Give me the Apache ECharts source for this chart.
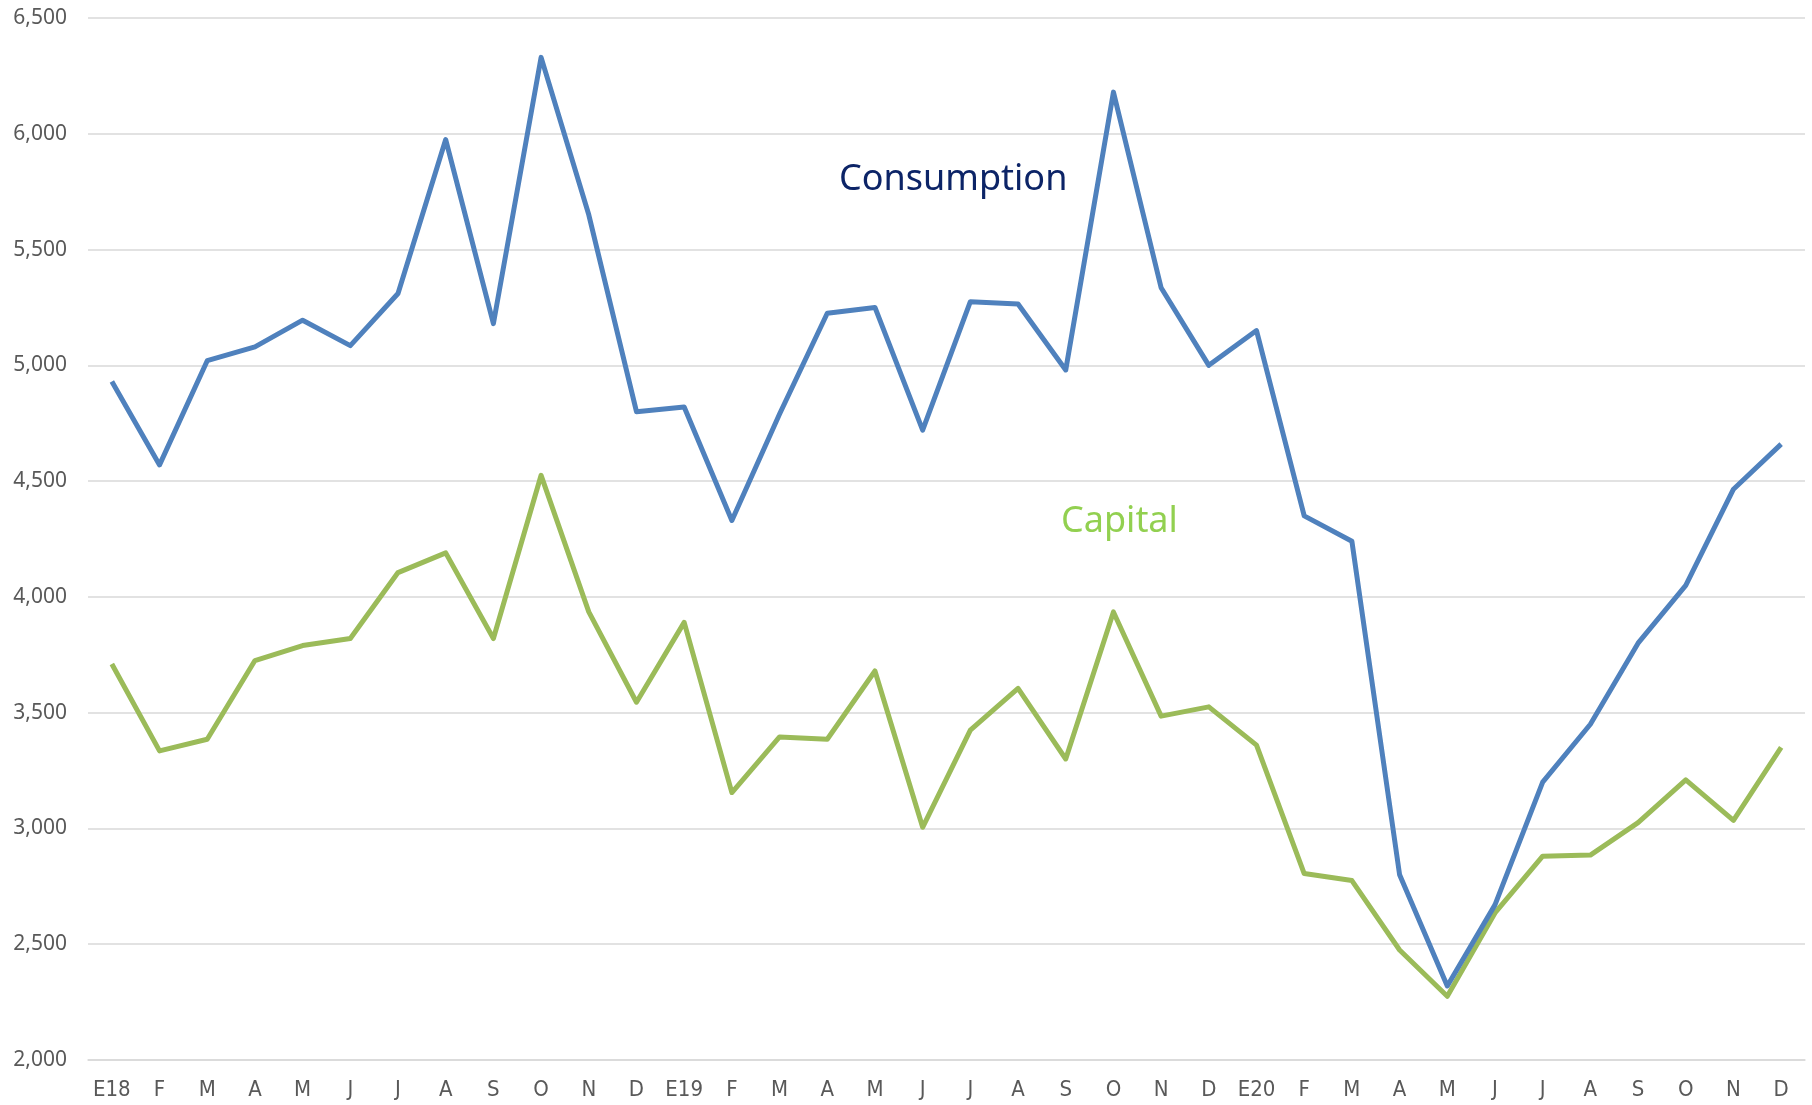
<!DOCTYPE html>
<html>
<head>
<meta charset="utf-8">
<script src="https://cdn.jsdelivr.net/npm/echarts@6/dist/echarts.min.js"></script>
<style>
html,body{margin:0;padding:0;background:#fff;}
#chart{width:1812px;height:1105px;}
</style>
</head>
<body>
<div id="chart"></div>
<script>
const categories = ['E18','F','M','A','M','J','J','A','S','O','N','D',
  'E19','F','M','A','M','J','J','A','S','O','N','D',
  'E20','F','M','A','M','J','J','A','S','O','N','D'];
const consumption = [4930,4570,5020,5080,5195,5085,5310,5975,5180,6330,5650,4800,
  4820,4330,4790,5225,5250,4720,5275,5265,4980,6180,5335,5000,
  5150,4350,4240,2800,2320,2670,3200,3450,3800,4050,4465,4660];
const capital = [3710,3335,3385,3725,3790,3820,4105,4190,3820,4525,3935,3545,
  3890,3155,3395,3385,3680,3005,3425,3605,3300,3935,3485,3525,
  3360,2805,2775,2475,2275,2635,2880,2885,3025,3210,3035,3350];
const seriesNames = ['Consumption','Capital'];

const chart = echarts.init(document.getElementById('chart'), null, {renderer:'canvas'});
chart.setOption({
  animation:false,
  backgroundColor:'#ffffff',
  grid:{left:88,right:7,top:18,bottom:45,containLabel:false},
  xAxis:{
    type:'category',
    data:categories,
    boundaryGap:true,
    axisLine:{show:true,lineStyle:{color:'#d9d9d9',width:1.5}},
    axisTick:{show:false},
    axisLabel:{interval:0,color:'#595959',fontSize:22,margin:19,
      fontFamily:'"Liberation Sans Narrow","DejaVu Sans Condensed","Roboto Condensed",sans-serif'}
  },
  yAxis:{
    type:'value',min:2000,max:6500,interval:500,
    axisLine:{show:false},axisTick:{show:false},
    splitLine:{show:true,lineStyle:{color:'#d9d9d9',width:1.5}},
    axisLabel:{color:'#595959',fontSize:21,margin:21,fontFamily:'"Noto Sans",sans-serif',
      formatter:v=>v.toLocaleString('en-US')}
  },
  series:[
    {name:seriesNames[0],type:'line',data:consumption,symbol:'none',
     lineStyle:{color:'#4f81bd',width:5,join:'round'},z:3},
    {name:seriesNames[1],type:'line',data:capital,symbol:'none',
     lineStyle:{color:'#9bbb59',width:5,join:'round'},z:2}
  ],
  graphic:[
    {type:'text',left:839,top:162,style:{text:'Consumption',fill:'#0c2467',
      font:'36px "Noto Sans", sans-serif'}},
    {type:'text',left:1061,top:504,style:{text:'Capital',fill:'#92d050',
      font:'36px "Noto Sans", sans-serif'}}
  ]
});
</script>
</body>
</html>
